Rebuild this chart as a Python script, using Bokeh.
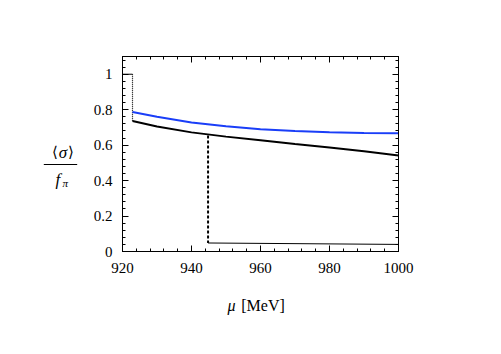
from bokeh.plotting import figure
from bokeh.layouts import row, column
from bokeh.models import FixedTicker, LinearAxis, CustomJSTickFormatter, Range1d
from bokeh.core.properties import value
from bokeh.embed import file_html
from bokeh.resources import INLINE

# ---- data ----
mu_black = [922.9, 930, 940, 950, 960, 970, 980, 990, 1000]
sig_black = [0.736, 0.705, 0.672, 0.648, 0.627, 0.606, 0.586, 0.565, 0.541]

mu_blue = [922.9, 930, 940, 950, 960, 970, 980, 990, 1000]
sig_blue = [0.787, 0.760, 0.728, 0.706, 0.690, 0.680, 0.673, 0.669, 0.667]

mu_vac = [920, 922.9]
sig_vac = [1.0, 1.0]
mu_jump1 = [922.9, 922.9]
sig_jump1 = [1.0, 0.736]

mu_jump2 = [944.8, 944.8]
sig_jump2 = [0.655, 0.048]
mu_low = [944.8, 1000]
sig_low = [0.048, 0.040]

x_major = [920, 940, 960, 980, 1000]
x_minor = list(range(920, 1001, 4))
y_major = [0, 0.2, 0.4, 0.6, 0.8, 1.0]
y_minor = [round(i * 0.04, 2) for i in range(0, 28)]

y_title_lb = "⟨"
y_title_num = "σ"
y_title_rb = "⟩"
y_title_den = "f"
y_title_sub = "π"
x_title_var = "μ"
x_title_unit = "[MeV]"

FONT = "Liberation Serif"


def blank_fig(w, h):
    f = figure(width=w, height=h, output_backend="svg", toolbar_location=None,
               x_range=Range1d(0, w), y_range=Range1d(h, 0),
               x_axis_type=None, y_axis_type=None,
               min_border=0, min_border_left=0, min_border_right=0,
               min_border_top=0, min_border_bottom=0)
    f.grid.visible = False
    f.outline_line_color = None
    f.background_fill_color = "white"
    f.border_fill_color = "white"
    return f


# ---- main plot ----
p = figure(width=395, height=280, output_backend="svg", toolbar_location=None,
           x_range=Range1d(920, 1000), y_range=Range1d(0, 1.1),
           min_border_left=30, min_border_right=87,
           min_border_top=56, min_border_bottom=29)
p.grid.visible = False
p.outline_line_color = "black"
p.outline_line_width = 1
p.background_fill_color = "white"
p.border_fill_color = "white"

fmt = CustomJSTickFormatter(code="return (Math.abs(tick - Math.round(tick)) < 1e-9) ? String(Math.round(tick)) : tick.toFixed(1);")
blank = CustomJSTickFormatter(code="return '';")


def style(ax, ticker, show_labels):
    ax.ticker = ticker
    ax.axis_line_color = "black"
    ax.major_tick_in = 6
    ax.major_tick_out = 0
    ax.minor_tick_in = 3
    ax.minor_tick_out = 0
    ax.major_tick_line_color = "black"
    ax.minor_tick_line_color = "black"
    ax.major_tick_line_width = 1
    ax.minor_tick_line_width = 1
    ax.major_label_text_font = FONT
    ax.major_label_text_color = "black"
    ax.major_label_text_font_size = "15px"
    if show_labels:
        ax.formatter = fmt
    else:
        ax.formatter = blank
        ax.major_label_standoff = 0


xt = FixedTicker(ticks=x_major, minor_ticks=x_minor)
yt = FixedTicker(ticks=y_major, minor_ticks=y_minor)

xb = p.xaxis[0]; style(xb, xt, True); xb.major_label_standoff = 11
yl = p.yaxis[0]; style(yl, yt, True); yl.major_label_standoff = 10
xa = LinearAxis(); style(xa, xt, False)
yr = LinearAxis(); style(yr, yt, False)
p.add_layout(xa, "above")
p.add_layout(yr, "right")

p.line(mu_vac, sig_vac, line_color="black", line_width=1)
p.line(mu_jump1, sig_jump1, line_color="black", line_width=1.2, line_dash="1 1")
p.line(mu_black, sig_black, line_color="black", line_width=2)
p.line(mu_blue, sig_blue, line_color="#1a3ef8", line_width=2)
p.line(mu_jump2, sig_jump2, line_color="black", line_width=2, line_dash="3 2")
p.line(mu_low, sig_low, line_color="black", line_width=1)

# ---- y-axis title: a fraction, in a narrow panel on the left ----
left = blank_fig(90, 338)
left.text(x=[54.5, 70.5], y=[151.5, 151.5], text=[y_title_lb, y_title_rb],
          text_font=value("DejaVu Serif"), text_font_size="15px",
          text_align="center", text_baseline="middle", text_color="black")
left.text(x=[62.5], y=[151.5], text=[y_title_num], text_font=value(FONT),
          text_font_style="italic", text_font_size="17px",
          text_align="center", text_baseline="middle", text_color="black")
left.segment(x0=[43.3], y0=[164], x1=[76.7], y1=[164],
             line_color="black", line_width=1)
left.text(x=[55], y=[179], text=[y_title_den], text_font=value(FONT),
          text_font_style="italic", text_font_size="17px",
          text_align="left", text_baseline="alphabetic", text_color="black")
left.text(x=[62], y=[182], text=[y_title_sub], text_font=value(FONT),
          text_font_style="italic", text_font_size="11px",
          text_align="left", text_baseline="alphabetic", text_color="black")

# ---- x-axis title, in a strip under the plot ----
bottom = blank_fig(395, 58)
bottom.text(x=[156], y=[25], text=[x_title_var], text_font=value(FONT),
            text_font_style="italic", text_font_size="16px",
            text_align="center", text_baseline="alphabetic", text_color="black")
bottom.text(x=[170], y=[25], text=[x_title_unit], text_font=value(FONT),
            text_font_size="16px", text_align="left",
            text_baseline="alphabetic", text_color="black")

layout = row(left, column(p, bottom, spacing=0), spacing=0)

open("out.html", "w").write(file_html(layout, INLINE))
